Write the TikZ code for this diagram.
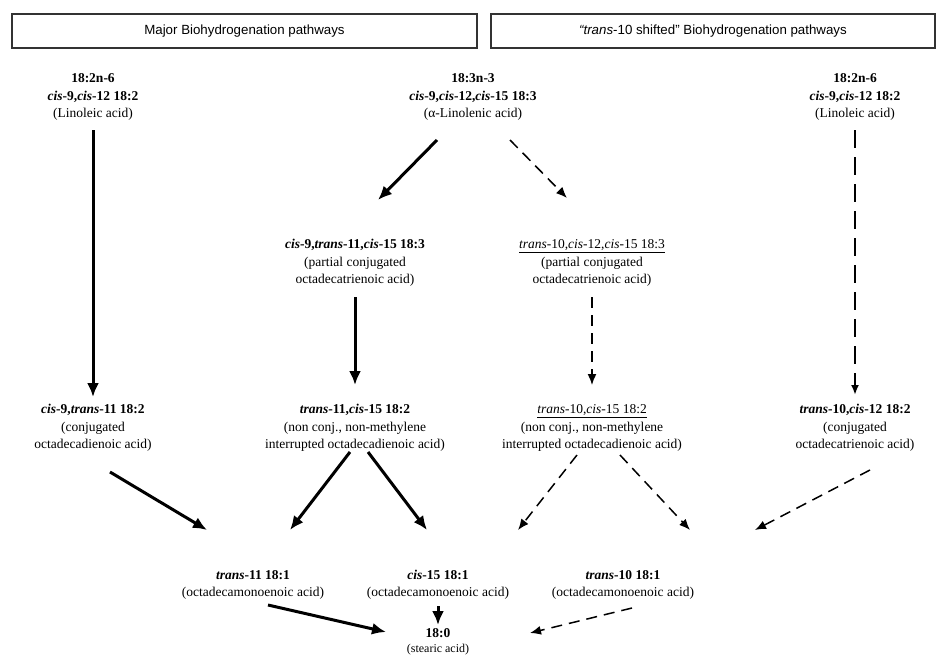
\documentclass[tikz,border=0pt]{standalone}
\usepackage{fontspec}
\setmainfont{Liberation Serif}
\setsansfont{Liberation Sans}
\usetikzlibrary{arrows.meta,calc}
\tikzset{
  acid/.style={align=center,inner sep=0pt,font=\fontsize{13.5}{17.3}\selectfont},
  hdr/.style={draw=black!80,line width=1.2pt,minimum height=34pt,inner sep=0pt,font=\sffamily\fontsize{13.3}{15}\selectfont},
  major/.style={line width=3pt,-{Latex[length=14pt,width=12pt]}},
  shifted/.style={line width=1.5pt,dash pattern=on 11pt off 7pt,-{Latex[length=11pt,width=9pt]}},
  longdash/.style={line width=2.6pt,dash pattern=on 18pt off 9pt,-{Latex[length=10pt,width=8pt]}}
}
\newcommand{\ci}{\textit{cis}}
\newcommand{\tr}{\textit{trans}}
\begin{document}
\begin{tikzpicture}[x=1pt,y=-1pt]
\useasboundingbox (0,0) rectangle (946,656);
\node[hdr,minimum width=465pt] (h1) at (244.5,31) {Major Biohydrogenation pathways};
\node[hdr,minimum width=444pt] (h2) at (713,31) {\textit{``trans}-10 shifted'' Biohydrogenation pathways};

\node[acid] (A) at (93,97) {\textbf{18:2n-6}\\\textbf{\ci-9,\ci-12 18:2}\\(Linoleic acid)};
\node[acid] (B) at (473,97) {\textbf{18:3n-3}\\\textbf{\ci-9,\ci-12,\ci-15 18:3}\\(α-Linolenic acid)};
\node[acid] (C) at (855,97) {\textbf{18:2n-6}\\\textbf{\ci-9,\ci-12 18:2}\\(Linoleic acid)};

\node[acid] (D) at (355,263) {\textbf{\ci-9,\tr-11,\ci-15 18:3}\\(partial conjugated\\octadecatrienoic acid)};
\node[acid] (E) at (592,263) {\underline{\tr-10,\ci-12,\ci-15 18:3}\\(partial conjugated\\octadecatrienoic acid)};

\node[acid] (F) at (93,428) {\textbf{\ci-9,\tr-11 18:2}\\(conjugated\\octadecadienoic acid)};
\node[acid] (G) at (355,428) {\textbf{\tr-11,\ci-15 18:2}\\(non conj., non-methylene\\interrupted octadecadienoic acid)};
\node[acid] (H) at (592,428) {\underline{\tr-10,\ci-15 18:2}\\(non conj., non-methylene\\interrupted octadecadienoic acid)};
\node[acid] (I) at (855,428) {\textbf{\tr-10,\ci-12 18:2}\\(conjugated\\octadecatrienoic acid)};

\node[acid] (J) at (253,585) {\textbf{\tr-11 18:1}\\(octadecamonoenoic acid)};
\node[acid] (K) at (438,585) {\textbf{\ci-15 18:1}\\(octadecamonoenoic acid)};
\node[acid] (L) at (623,585) {\textbf{\tr-10 18:1}\\(octadecamonoenoic acid)};

\node[acid,font=\fontsize{13.5}{15}\selectfont] (M) at (438,642) {\textbf{18:0}\\{\fontsize{12}{14}\selectfont(stearic acid)}};

\draw[major] ($(A)+(0,33)$) -- ($(F)+(0,-31)$);
\draw[major] ($(B)+(-36,43)$) -- ($(D)+(23,-63)$);
\draw[shifted] ($(B)+(37,43)$) -- ($(E)+(-25,-65)$);
\draw[longdash] ($(C)+(0,33)$) -- ($(I)+(0,-33)$);
\draw[major] ($(D)+(0,34)$) -- ($(G)+(0,-43)$);
\draw[shifted] ($(E)+(0,34)$) -- ($(H)+(0,-43)$);
\draw[major] ($(F)+(17,44)$) -- ($(J)+(-46,-55)$);
\draw[major] ($(G)+(-5,24)$) -- ($(J)+(37,-55)$);
\draw[major] ($(G)+(13,24)$) -- ($(K)+(-11,-55)$);
\draw[shifted] ($(H)+(-15,27)$) -- ($(K)+(80,-55)$);
\draw[shifted] ($(H)+(28,27)$) -- ($(L)+(67,-55)$);
\draw[shifted] ($(I)+(15,42)$) -- ($(L)+(132,-55)$);
\draw[major] ($(J)+(15,20)$) -- ($(M)+(-52,-10)$);
\draw[major] ($(K)+(0,21)$) -- ($(M)+(0,-17)$);
\draw[shifted] ($(L)+(9,23)$) -- ($(M)+(92,-9)$);
\end{tikzpicture}
\end{document}
